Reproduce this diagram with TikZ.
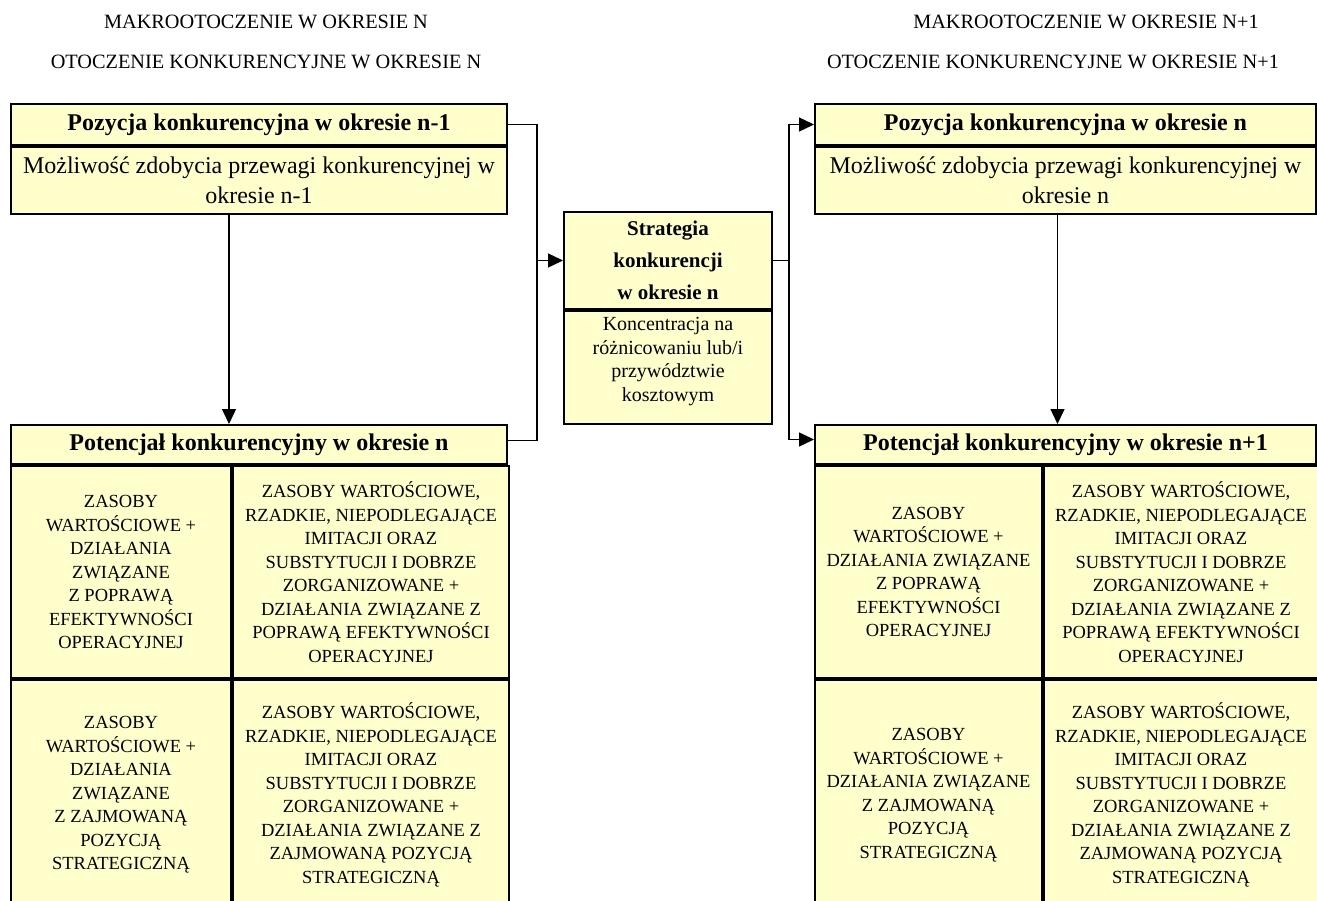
\documentclass[tikz,border=0pt]{standalone}
\usepackage{fontspec}
\setmainfont{Liberation Serif}
\usetikzlibrary{arrows.meta}
\definecolor{cyellow}{RGB}{255,255,204}
\tikzset{sheet/.style={x=1pt,y=-1pt}}
\tikzset{box/.style={draw,line width=2pt,fill=cyellow,align=center,inner sep=0pt,anchor=north west},
         bhead/.style={box,font=\fontsize{24}{28}\selectfont\bfseries},
         btext/.style={box,font=\fontsize{24}{30}\selectfont},
         bcell/.style={box,font=\fontsize{18.5}{23.5}\selectfont},
         envlab/.style={font=\fontsize{20.3}{24}\selectfont},
         link/.style={line width=1.4pt},
         linkarr/.style={link,-{Triangle[length=15pt,width=14pt]}}}

\begin{document}
\begin{tikzpicture}[sheet]
    \useasboundingbox (0,0) rectangle (1317,900);
    \clip (0,0) rectangle (1317,900);
    % okres n (lewa strona)
    \node[envlab] (mak1) at (266,22) {MAKROOTOCZENIE W OKRESIE N};
    \node[envlab] (ot1) at (266,62) {OTOCZENIE KONKURENCYJNE W OKRESIE N};
    \node[bhead,minimum width=496,minimum height=41] (poz1) at (10,103) {Pozycja konkurencyjna w okresie n-1};
    \node[btext,minimum width=496,minimum height=67] (moz1) at (poz1.south west) {Możliwość zdobycia przewagi konkurencyjnej w\\ okresie n-1};
    \node[bhead,minimum width=496,minimum height=39] (pot1) at (10,424) {Potencjał konkurencyjny w okresie n};
    \node[bcell,minimum width=220,minimum height=212] (ope1) at (pot1.south west) {ZASOBY\\ WARTOŚCIOWE +\\ DZIAŁANIA\\ ZWIĄZANE\\ Z POPRAWĄ\\ EFEKTYWNOŚCI\\ OPERACYJNEJ};
    \node[bcell,minimum width=276,minimum height=212] (vope1) at (ope1.north east) {ZASOBY WARTOŚCIOWE,\\ RZADKIE, NIEPODLEGAJĄCE\\ IMITACJI ORAZ\\ SUBSTYTUCJI I DOBRZE\\ ZORGANIZOWANE +\\ DZIAŁANIA ZWIĄZANE Z\\ POPRAWĄ EFEKTYWNOŚCI\\ OPERACYJNEJ};
    \node[bcell,minimum width=220,minimum height=230] (str1) at (ope1.south west) {ZASOBY\\ WARTOŚCIOWE +\\ DZIAŁANIA\\ ZWIĄZANE\\ Z ZAJMOWANĄ\\ POZYCJĄ\\ STRATEGICZNĄ};
    \node[bcell,minimum width=276,minimum height=230] (vstr1) at (str1.north east) {ZASOBY WARTOŚCIOWE,\\ RZADKIE, NIEPODLEGAJĄCE\\ IMITACJI ORAZ\\ SUBSTYTUCJI I DOBRZE\\ ZORGANIZOWANE +\\ DZIAŁANIA ZWIĄZANE Z\\ ZAJMOWANĄ POZYCJĄ\\ STRATEGICZNĄ};
    % strategia
    \node[box,font=\fontsize{21}{32}\selectfont\bfseries,minimum width=208,minimum height=97] (strat) at (563,211) {Strategia\\ konkurencji\\ w okresie n};
    \node[box,font=\fontsize{20}{23.5}\selectfont,minimum width=208,minimum height=113] (konc) at (strat.south west)
        {\parbox[c][100pt][t]{200pt}{\centering Koncentracja na\\ różnicowaniu lub/i\\ przywództwie\\ kosztowym}};
    % okres n+1 (prawa strona)
    \node[envlab] (mak2) at (1086,22) {MAKROOTOCZENIE W OKRESIE N+1};
    \node[envlab] (ot2) at (1053,62) {OTOCZENIE KONKURENCYJNE W OKRESIE N+1};
    \node[bhead,minimum width=501,minimum height=41] (poz2) at (814,103) {Pozycja konkurencyjna w okresie n};
    \node[btext,minimum width=501,minimum height=67] (moz2) at (poz2.south west) {Możliwość zdobycia przewagi konkurencyjnej w\\ okresie n};
    \node[bhead,minimum width=501,minimum height=39] (pot2) at (814,424) {Potencjał konkurencyjny w okresie n+1};
    \node[bcell,minimum width=227,minimum height=212] (ope2) at (pot2.south west) {ZASOBY\\ WARTOŚCIOWE +\\ DZIAŁANIA ZWIĄZANE\\ Z POPRAWĄ\\ EFEKTYWNOŚCI\\ OPERACYJNEJ};
    \node[bcell,minimum width=274,minimum height=212] (vope2) at (ope2.north east) {ZASOBY WARTOŚCIOWE,\\ RZADKIE, NIEPODLEGAJĄCE\\ IMITACJI ORAZ\\ SUBSTYTUCJI I DOBRZE\\ ZORGANIZOWANE +\\ DZIAŁANIA ZWIĄZANE Z\\ POPRAWĄ EFEKTYWNOŚCI\\ OPERACYJNEJ};
    \node[bcell,minimum width=227,minimum height=230] (str2) at (ope2.south west) {ZASOBY\\ WARTOŚCIOWE +\\ DZIAŁANIA ZWIĄZANE\\ Z ZAJMOWANĄ\\ POZYCJĄ\\ STRATEGICZNĄ};
    \node[bcell,minimum width=274,minimum height=230] (vstr2) at (str2.north east) {ZASOBY WARTOŚCIOWE,\\ RZADKIE, NIEPODLEGAJĄCE\\ IMITACJI ORAZ\\ SUBSTYTUCJI I DOBRZE\\ ZORGANIZOWANE +\\ DZIAŁANIA ZWIĄZANE Z\\ ZAJMOWANĄ POZYCJĄ\\ STRATEGICZNĄ};
    % polaczenia
    \coordinate (jL) at (537,0);
    \coordinate (jR) at (789,0);
    \coordinate (pin1) at ([yshift=4pt]pot1.east);
    \coordinate (pin2) at ([yshift=5pt]pot2.west);
    \draw[linkarr] ([xshift=-30pt]moz1.south) -- ([xshift=-30pt]moz1.south |- pot1.north);
    \draw[linkarr] ([xshift=-8pt]moz2.south) -- ([xshift=-8pt]moz2.south |- pot2.north);
    \draw[link] (poz1.east) -| (jL |- pin1) -- (pin1);
    \draw[linkarr] (jL |- strat.west) -- (strat.west);
    \draw[link] (strat.east) -- (jR |- strat.east);
    \draw[linkarr] (jR |- strat.east) |- (poz2.west);
    \draw[linkarr] (jR |- strat.east) |- (pin2);
\end{tikzpicture}
\end{document}
